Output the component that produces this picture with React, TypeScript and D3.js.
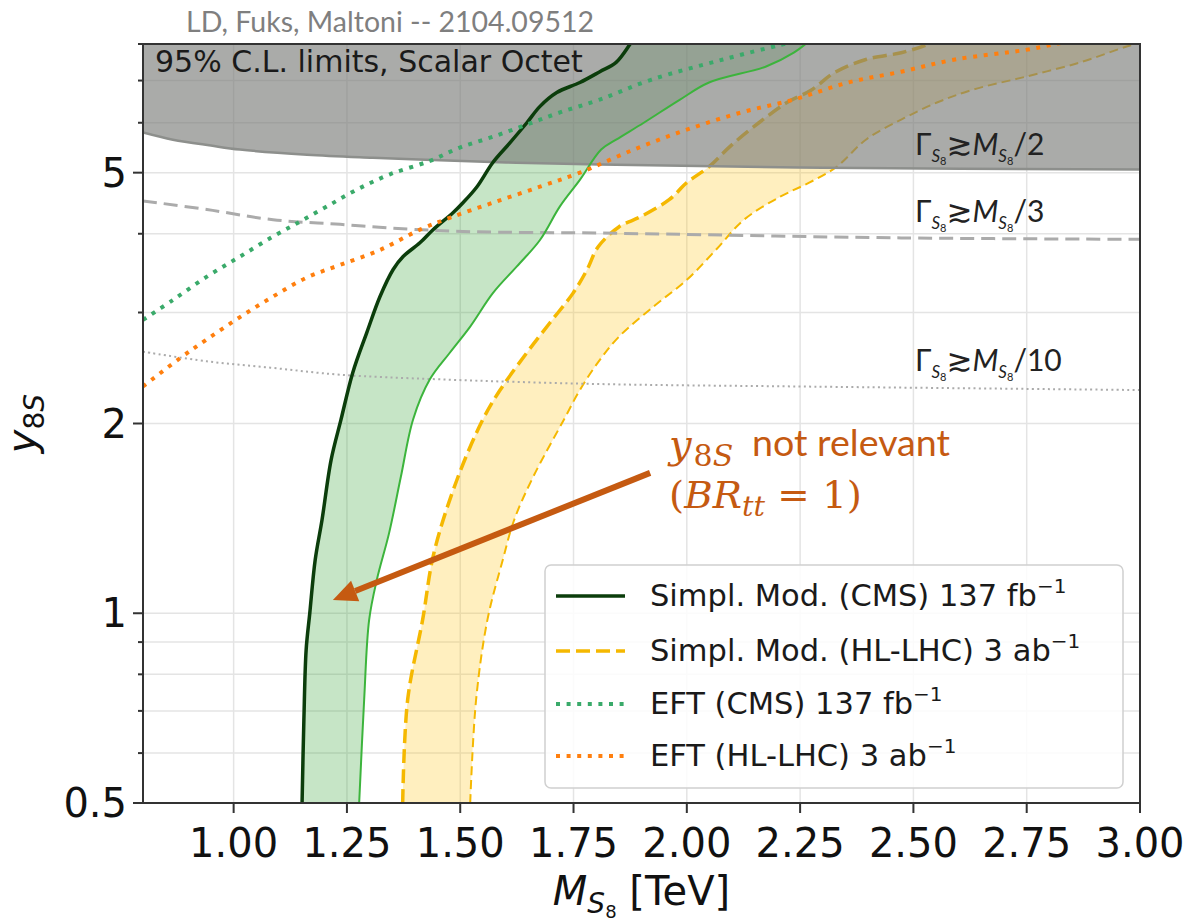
import React from 'react';
import * as d3 from 'd3';

// Simplified model, CMS 137 fb^-1 (dark solid edge of the green band)
const cmsMass = [1.151, 1.155, 1.160, 1.168, 1.180, 1.195, 1.215, 1.237, 1.263, 1.294, 1.323, 1.352, 1.374, 1.411, 1.440, 1.484, 1.506, 1.537, 1.572, 1.610, 1.647, 1.676, 1.713, 1.764, 1.808, 1.844, 1.875, 1.89];
const cmsY = [0.5, 0.677, 0.875, 1.0, 1.216, 1.406, 1.75, 2.03, 2.41, 2.79, 3.18, 3.51, 3.68, 3.87, 4.06, 4.32, 4.48, 4.75, 5.19, 5.58, 6.0, 6.37, 6.70, 6.95, 7.23, 7.48, 8.0, 8.3];

// light green edge of the CMS band
const cmsEdgeMass = [1.277, 1.288, 1.299, 1.316, 1.343, 1.369, 1.396, 1.433, 1.477, 1.522, 1.572, 1.625, 1.676, 1.720, 1.764, 1.811, 1.844, 1.905, 1.985, 2.049, 2.175, 2.236, 2.28];
const cmsEdgeY = [0.5, 0.729, 0.976, 1.13, 1.34, 1.646, 2.03, 2.35, 2.59, 2.85, 3.22, 3.55, 3.91, 4.42, 4.87, 5.44, 5.64, 6.0, 6.53, 6.95, 7.37, 7.75, 8.2];

// Simplified model, HL-LHC 3 ab^-1 (thick dashed edge)
const hlMass = [1.373, 1.384, 1.417, 1.442, 1.493, 1.550, 1.588, 1.647, 1.698, 1.749, 1.780, 1.804, 1.850, 1.899, 1.961, 2.000, 2.049, 2.095, 2.159, 2.221, 2.276, 2.325, 2.395, 2.473, 2.528, 2.56];
const hlY = [0.5, 0.729, 0.976, 1.247, 1.63, 2.03, 2.26, 2.59, 2.89, 3.22, 3.51, 3.81, 4.10, 4.26, 4.53, 4.82, 5.11, 5.50, 6.0, 6.46, 6.77, 7.20, 7.56, 7.75, 7.97, 8.2];

// thin dashed edge of the HL-LHC band
const hlEdgeMass = [1.522, 1.535, 1.560, 1.594, 1.619, 1.661, 1.729, 1.764, 1.804, 1.850, 1.930, 2.000, 2.064, 2.126, 2.206, 2.270, 2.331, 2.395, 2.473, 2.552, 2.631, 2.748, 2.868, 2.969, 3.02];
const hlEdgeY = [0.5, 0.729, 0.976, 1.216, 1.406, 1.646, 2.03, 2.26, 2.50, 2.745, 3.08, 3.38, 3.77, 4.21, 4.58, 4.82, 5.11, 5.64, 6.07, 6.46, 6.77, 7.10, 7.48, 7.92, 8.1];

// EFT, CMS 137 fb^-1
const eftCmsMass = [0.8, 0.866, 0.941, 1.014, 1.087, 1.146, 1.206, 1.272, 1.345, 1.433, 1.499, 1.572, 1.647, 1.720, 1.808, 1.921, 2.080, 2.206, 2.25];
const eftCmsY = [2.92, 3.14, 3.42, 3.68, 3.96, 4.18, 4.42, 4.70, 4.97, 5.22, 5.48, 5.70, 5.96, 6.23, 6.53, 7.02, 7.56, 7.97, 8.1];

// EFT, HL-LHC 3 ab^-1
const eftHlMass = [0.8, 0.882, 0.941, 1.014, 1.087, 1.162, 1.235, 1.323, 1.411, 1.477, 1.572, 1.676, 1.764, 1.883, 2.000, 2.120, 2.236, 2.356, 2.473, 2.592, 2.748, 2.803, 2.85];
const eftHlY = [2.29, 2.54, 2.72, 2.95, 3.18, 3.41, 3.57, 3.77, 4.06, 4.24, 4.48, 4.75, 5.0, 5.44, 5.85, 6.23, 6.53, 6.95, 7.23, 7.56, 7.83, 7.97, 8.1];

// width contours
const half1Mass = [0.8, 0.866, 0.95, 1.014, 1.162, 1.307, 1.455, 1.602, 1.808, 2.3, 3.0];
const half1Y = [5.79, 5.64, 5.52, 5.44, 5.34, 5.28, 5.23, 5.19, 5.15, 5.09, 5.06];
const thirdMass = [0.8, 0.941, 1.087, 1.235, 1.383, 1.528, 1.808, 2.473, 3.0];
const thirdY = [4.51, 4.37, 4.21, 4.14, 4.07, 4.03, 4.01, 3.94, 3.92];
const tenthMass = [0.8, 0.941, 1.087, 1.235, 1.455, 1.808, 2.236, 3.0];
const tenthY = [2.60, 2.51, 2.45, 2.39, 2.35, 2.31, 2.29, 2.26];

const xTicks = [1.0, 1.25, 1.5, 1.75, 2.0, 2.25, 2.5, 2.75, 3.0];
const yMajor = [0.5, 1, 2, 5];
const yMinor = [0.6, 0.7, 0.8, 0.9, 3, 4, 6, 7, 8];

const legendItems = ['Simpl. Mod. (CMS) 137 fb', 'Simpl. Mod. (HL-LHC) 3 ab', 'EFT (CMS) 137 fb', 'EFT (HL-LHC) 3 ab'];

const L = 143, R = 1140, T = 44, B = 803;
const x = d3.scaleLinear().domain([0.8, 3.0]).range([L, R]);
const y = d3.scaleLog().domain([0.5, 8.0]).range([B, T]);

type P = [number, number];
const pts = (ms: number[], ys: number[]): P[] => ms.map((m, i) => [m, ys[i]] as P);
const line = d3.line<P>().x(d => x(d[0])).y(d => y(d[1])).curve(d3.curveCatmullRom.alpha(0.5));
const band = (a: P[], b: P[]) => line(a) + 'L' + (line([...b].reverse()) as string).slice(1) + 'Z';
const grayArea = d3.area<P>().x(d => x(d[0])).y0(T - 20).y1(d => y(d[1])).curve(d3.curveCatmullRom.alpha(0.5));

const DV = "'DejaVu Sans', sans-serif";
const CAL = "Lato, 'Open Sans', sans-serif";
const SERIF = "'DejaVu Serif', 'Liberation Serif', serif";
const ORANGE = '#c55a11';
const DARK = '#0b3d0b';
const LIGHTG = '#3cb43c';
const GOLD = '#f5b800';
const EFTG = '#3aaa6a';
const EFTO = '#ff7f0e';

function WidthLabel({ px, py, frac }: { px: number; py: number; frac: string }) {
  return (
    <text x={px} y={py} fontFamily={CAL} fontSize={30} fill="#222">
      <tspan>Γ</tspan>
      <tspan fontStyle="italic" fontSize={17} dy={7}>S</tspan>
      <tspan fontSize={11} dy={3}>8</tspan>
      <tspan fontFamily={DV} fontSize={31} dy={-10}>≳</tspan>
      <tspan fontStyle="italic">M</tspan>
      <tspan fontStyle="italic" fontSize={17} dy={7}>S</tspan>
      <tspan fontSize={11} dy={3}>8</tspan>
      <tspan dy={-10}>/{frac}</tspan>
    </text>
  );
}

export default function App() {
  const cms = pts(cmsMass, cmsY);
  const cmsEdge = pts(cmsEdgeMass, cmsEdgeY);
  const hl = pts(hlMass, hlY);
  const hlEdge = pts(hlEdgeMass, hlEdgeY);

  // annotation arrow, in data coordinates
  const a0: P = [x(1.919), y(1.67)];
  const a1: P = [x(1.219), y(1.05)];
  const ang = Math.atan2(a1[1] - a0[1], a1[0] - a0[0]);
  const headLen = 24, hw = 11;
  const base: P = [a1[0] - headLen * Math.cos(ang), a1[1] - headLen * Math.sin(ang)];
  const head = [
    a1,
    [base[0] + hw * Math.sin(ang), base[1] - hw * Math.cos(ang)],
    [base[0] - hw * Math.sin(ang), base[1] + hw * Math.cos(ang)],
  ].map(p => p.join(',')).join(' ');

  const legY = [596, 651, 704, 756];
  const dotted = { strokeWidth: 4, strokeDasharray: '4 6.6', fill: 'none' };

  return (
    <svg width={1195} height={922} style={{ position: 'absolute', left: 0, top: 0, background: '#fff' }}>
      <defs>
        <clipPath id="plot"><rect x={L} y={T} width={R - L} height={B - T} /></clipPath>
      </defs>

      {/* grid */}
      <g stroke="#e4e4e4" strokeWidth={1.5}>
        {xTicks.map(t => <line key={'gx' + t} x1={x(t)} x2={x(t)} y1={T} y2={B} />)}
        {[...yMajor, ...yMinor].map(t => <line key={'gy' + t} x1={L} x2={R} y1={y(t)} y2={y(t)} />)}
      </g>

      <g clipPath="url(#plot)">
        <path d={band(cms, cmsEdge)} fill="#2ca02c" fillOpacity={0.27} />
        <path d={band(hl, hlEdge)} fill="#ffc61a" fillOpacity={0.28} />
        <path d={line(hl) as string} fill="none" stroke={GOLD} strokeWidth={3.5} strokeDasharray="14 6" />
        <path d={line(hlEdge) as string} fill="none" stroke={GOLD} strokeWidth={2} strokeDasharray="9 5" />

        <path d={grayArea(pts(half1Mass, half1Y)) as string} fill="#7a7c79" fillOpacity={0.64} />
        <path d={line(pts(half1Mass, half1Y)) as string} fill="none" stroke="#8d8f8c" strokeWidth={2.5} />
        <path d={line(pts(thirdMass, thirdY)) as string} fill="none" stroke="#ababab" strokeWidth={3} strokeDasharray="14 7" />
        <path d={line(pts(tenthMass, tenthY)) as string} fill="none" stroke="#ababab" strokeWidth={2} strokeDasharray="2 3.3" />

        <path d={line(cms) as string} fill="none" stroke={DARK} strokeWidth={3.5} />
        <path d={line(cmsEdge) as string} fill="none" stroke={LIGHTG} strokeWidth={2} />
        <path d={line(pts(eftCmsMass, eftCmsY)) as string} stroke={EFTG} {...dotted} />
        <path d={line(pts(eftHlMass, eftHlY)) as string} stroke={EFTO} {...dotted} />
      </g>

      {/* frame and ticks */}
      <rect x={L} y={T} width={R - L} height={B - T} fill="none" stroke="#333" strokeWidth={2} />
      <g stroke="#333" strokeWidth={2}>
        {xTicks.map(t => <line key={'tx' + t} x1={x(t)} x2={x(t)} y1={B} y2={B + 10} />)}
        {yMajor.map(t => <line key={'ty' + t} x1={L - 10} x2={L} y1={y(t)} y2={y(t)} />)}
        {yMinor.map(t => <line key={'tm' + t} x1={L - 5} x2={L} y1={y(t)} y2={y(t)} />)}
      </g>
      <g fontFamily={DV} fontSize={40} fill="#111">
        {xTicks.map(t => <text key={'lx' + t} x={x(t)} y={857} textAnchor="middle">{d3.format('.2f')(t)}</text>)}
        {yMajor.map(t => <text key={'ly' + t} x={127} y={y(t) + 14} textAnchor="end">{String(t)}</text>)}
      </g>

      {/* axis titles */}
      <text x={(L + R) / 2} y={905} textAnchor="middle" fontFamily={DV} fontSize={40} fill="#111">
        <tspan fontStyle="italic">M</tspan>
        <tspan fontStyle="italic" fontSize={28} dy={8}>S</tspan>
        <tspan fontSize={18} dy={5}>8</tspan>
        <tspan dy={-13}> [TeV]</tspan>
      </text>
      <text transform={`translate(36,${(T + B) / 2}) rotate(-90)`} textAnchor="middle" fontFamily={DV} fontSize={40} fill="#111">
        <tspan fontStyle="italic">y</tspan>
        <tspan fontSize={28} dy={8}>8</tspan>
        <tspan fontSize={28} fontStyle="italic">S</tspan>
      </text>

      <text x={390} y={32} textAnchor="middle" fontFamily={CAL} fontSize={28} fill="#7f7f7f" textLength={408} lengthAdjust="spacingAndGlyphs">
        LD, Fuks, Maltoni -- 2104.09512
      </text>
      <text x={155} y={72} fontFamily={DV} fontSize={30} fill="#1a1a1a">95% C.L. limits, Scalar Octet</text>

      <WidthLabel px={915} py={155} frac="2" />
      <WidthLabel px={915} py={222} frac="3" />
      <WidthLabel px={915} py={371} frac="10" />

      {/* legend */}
      <rect x={545} y={565} width={578} height={223} rx={6} fill="#fff" fillOpacity={0.85} stroke="#d0d0d0" strokeWidth={1.5} />
      <line x1={556} x2={625} y1={legY[0]} y2={legY[0]} stroke={DARK} strokeWidth={3.5} />
      <line x1={556} x2={625} y1={legY[1]} y2={legY[1]} stroke={GOLD} strokeWidth={3.5} strokeDasharray="14 6" />
      <line x1={556} x2={625} y1={legY[2]} y2={legY[2]} stroke={EFTG} {...dotted} />
      <line x1={556} x2={625} y1={legY[3]} y2={legY[3]} stroke={EFTO} {...dotted} />
      {legendItems.map((s, i) => (
        <text key={s} x={650} y={legY[i] + 10} fontFamily={DV} fontSize={30.5} fill="#1a1a1a">
          {s}<tspan fontSize={20} dy={-13}>−1</tspan>
        </text>
      ))}

      {/* annotation */}
      <line x1={a0[0]} y1={a0[1]} x2={base[0]} y2={base[1]} stroke={ORANGE} strokeWidth={6} />
      <polygon points={head} fill={ORANGE} />
      <text x={669} y={458} fontFamily={SERIF} fontSize={40} fill={ORANGE}>
        <tspan fontStyle="italic">y</tspan>
        <tspan fontSize={30} dx={2} dy={8}>8</tspan>
        <tspan fontSize={30} fontStyle="italic">S</tspan>
      </text>
      <text x={752} y={456} fontFamily={CAL} fontSize={36} fill={ORANGE} textLength={198} lengthAdjust="spacingAndGlyphs">not relevant</text>
      <text x={669} y={508} fontFamily={SERIF} fontSize={38} fill={ORANGE} textLength={193} lengthAdjust="spacingAndGlyphs">
        <tspan>(</tspan>
        <tspan fontStyle="italic">BR</tspan>
        <tspan fontStyle="italic" fontSize={28} dy={8}>tt</tspan>
        <tspan dy={-8}> = 1)</tspan>
      </text>
    </svg>
  );
}
